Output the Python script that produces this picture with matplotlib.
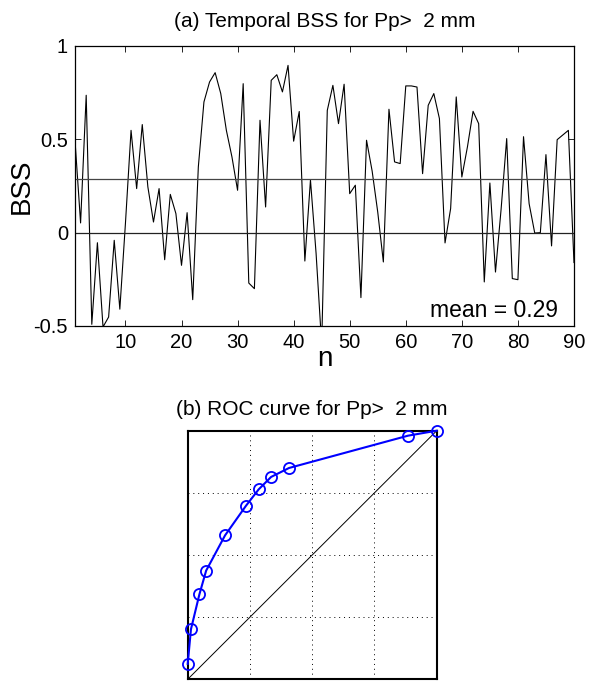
import numpy as np
import matplotlib
matplotlib.use("Agg")
import matplotlib.pyplot as plt

plt.rcParams['font.family'] = ['Liberation Sans', 'DejaVu Sans']

# (a) temporal BSS, one value per event n = 1..90
n_events = np.arange(1, 91)
bss = [0.495, 0.052, 0.736, -0.491, -0.054, -0.505, -0.452, -0.041, -0.41, 0.05,
       0.548, 0.236, 0.579, 0.245, 0.057, 0.236, -0.145, 0.205, 0.102, -0.175,
       0.107, -0.359, 0.352, 0.70, 0.807, 0.857, 0.745, 0.548, 0.405, 0.227,
       0.798, -0.27, -0.30, 0.602, 0.1375, 0.816, 0.846, 0.754, 0.896, 0.49,
       0.649, -0.152, 0.282, -0.11, -0.6, 0.655, 0.789, 0.584, 0.795, 0.209,
       0.254, -0.348, 0.495, 0.33, 0.11, -0.157, 0.661, 0.379, 0.37, 0.786,
       0.786, 0.78, 0.316, 0.682, 0.745, 0.611, -0.055, 0.129, 0.727, 0.298,
       0.46, 0.65, 0.584, -0.264, 0.266, -0.211, 0.125, 0.504, -0.246, -0.252,
       0.514, 0.155, -0.002, 0.0, 0.418, -0.071, 0.498, 0.523, 0.548, -0.16]
mean_bss = 0.29
xticks_a = [10, 20, 30, 40, 50, 60, 70, 80, 90]
yticks_a = [-0.5, 0, 0.5, 1]
yticklabels_a = ['-0.5', '0', '0.5', '1']

# (b) ROC curve points (false alarm rate, hit rate)
far = [0.0, 0.013, 0.047, 0.074, 0.150, 0.234, 0.285, 0.335, 0.407, 0.885, 1.0]
hit = [0.062, 0.201, 0.342, 0.437, 0.579, 0.698, 0.764, 0.814, 0.850, 0.980, 1.0]
grid_b = [0, 0.25, 0.5, 0.75, 1]

fig = plt.figure(figsize=(5.89, 6.82), dpi=100)

ax1 = fig.add_axes([0.1273, 0.522, 0.8472, 0.4106])
ax1.plot(n_events, bss, color='k', lw=0.8)
ax1.axhline(0, color='#222222', lw=0.9)
ax1.axhline(mean_bss, color='#444444', lw=0.9)
ax1.set_xlim(1, 90)
ax1.set_ylim(-0.5, 1)
ax1.set_xticks(xticks_a)
ax1.set_yticks(yticks_a)
ax1.set_yticklabels(yticklabels_a)
ax1.tick_params(direction='in', top=True, right=True, length=4, width=0.6,
                labelsize=14.5, pad=5)
for s in ax1.spines.values():
    s.set_linewidth(0.9)
ax1.set_xlabel('n', fontsize=20, labelpad=-4)
ax1.set_ylabel('BSS', fontsize=20, labelpad=-1)
ax1.set_title('(a) Temporal BSS for Pp>  2 mm', fontsize=15, pad=14)
ax1.text(0.968, 0.033, 'mean = %.2f' % mean_bss, transform=ax1.transAxes,
         ha='right', va='baseline', fontsize=16.5)

ax2 = fig.add_axes([0.3187, 0.004, 0.4228, 0.3645])
ax2.plot([0, 1], [0, 1], color='k', lw=0.7)
ax2.plot(far, hit, color='#0000ff', lw=1.5, marker='o', markersize=8,
         markerfacecolor='none', markeredgecolor='#0000ff', markeredgewidth=1.3,
         clip_on=False, zorder=5)
ax2.set_xlim(0, 1)
ax2.set_ylim(0, 1)
ax2.set_xticks(grid_b)
ax2.set_yticks(grid_b)
ax2.set_xticklabels([])
ax2.set_yticklabels([])
ax2.tick_params(length=0)
ax2.grid(True, linestyle=(0, (1, 4)), color='k', lw=0.7)
for s in ax2.spines.values():
    s.set_linewidth(1.5)
ax2.set_title('(b) ROC curve for Pp>  2 mm', fontsize=15, pad=11)

fig.savefig('out.png', dpi=100)
